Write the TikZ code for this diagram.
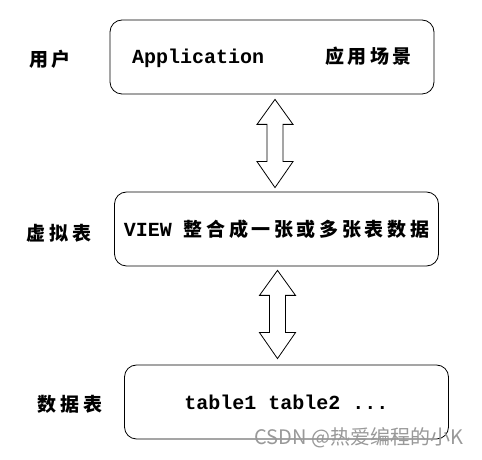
\documentclass[tikz,border=0pt]{standalone}
\usepackage{fontspec}
\setmainfont{Liberation Mono}
\newfontfamily\zhfont[LetterSpace=19]{Noto Sans CJK SC}
\newfontfamily\wmfont{Noto Sans CJK SC}
\usepackage{tikz}
\usetikzlibrary{calc}

\newcommand{\zh}[1]{{\zhfont\bfseries\fontsize{19}{22}\selectfont #1}}
% hollow double arrow between two tips (#1 top, #2 bottom)
\newcommand{\hollowarrow}[2]{%
  \draw (#1) -- ($(#1)+(18,-25)$) -- ($(#1)+(8,-25)$) -- ($(#2)+(8,26)$)
     -- ($(#2)+(18,26)$) -- (#2) -- ($(#2)+(-18,26)$) -- ($(#2)+(-8,26)$)
     -- ($(#1)+(-8,-25)$) -- ($(#1)+(-18,-25)$) -- cycle;}

\tikzset{
  layerbox/.style={draw, rounded corners=12pt, minimum width=324pt,
    minimum height=74pt, inner sep=0pt},
  bigtext/.style={font=\bfseries\fontsize{20}{24}\selectfont}
}

\begin{document}
\begin{tikzpicture}[x=1pt,y=1pt,line width=0.8pt]
     \useasboundingbox (0,0) rectangle (482,460);
      \node[layerbox,bigtext] (app) at (272,403) {Application\hspace{61pt}\zh{应用场景}};
      \node[layerbox,bigtext] (view) at (276.5,231) {VIEW \zh{整合成一张或多张表数据}};
      \node[layerbox,bigtext] (tab) at (286.5,58) {table1 table2 ...};
      \node (user) at (50,401) {\zh{用户}};
      \node (virt) at (59,227) {\zh{虚拟表}};
      \node (data) at (70,56) {\zh{数据表}};
      \coordinate (t1) at ($(app.south)+(3,-5)$);
      \coordinate (b1) at ($(t1 |- view.north)+(0,4)$);
      \hollowarrow{t1}{b1}
      \coordinate (t2) at ($(view.south)+(1,-4)$);
      \coordinate (b2) at ($(t2 |- tab.north)+(0,6)$);
      \hollowarrow{t2}{b2}
      %watermark
      \node[text=black!40, font=\wmfont\fontsize{20}{23}\selectfont, anchor=east] (mark) at (467,22) {CSDN @热爱编程的小K};
\end{tikzpicture}
\end{document}
